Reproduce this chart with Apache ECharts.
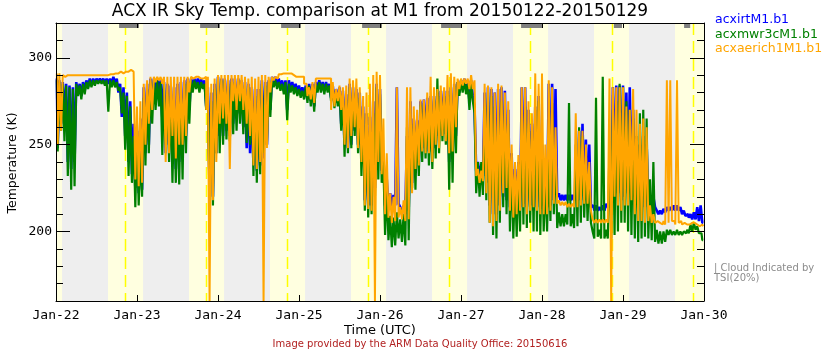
<!DOCTYPE html>
<html>
<head>
<meta charset="utf-8">
<script src="https://cdn.jsdelivr.net/npm/echarts@6/dist/echarts.min.js"></script>
<style>
  html, body { margin: 0; padding: 0; background: #fff; }
  #chart { width: 840px; height: 350px; }
</style>
</head>
<body>
<div id="chart"></div>
<script>
// Hours since 2015-01-22 00:00 UTC; one tick label per day.
const dayLabels = ['Jan-22', 'Jan-23', 'Jan-24', 'Jan-25', 'Jan-26', 'Jan-27', 'Jan-28', 'Jan-29', 'Jan-30'];
const yMajorTicks = [200, 250, 300];

// Daylight periods (hours UTC since Jan-22 00:00)
const sunriseHours = [0, 15.4, 39.4, 63.4, 87.4, 111.4, 135.4, 159.4, 183.4];
const sunsetHours = [1.8, 25.8, 49.8, 73.8, 97.8, 121.8, 145.8, 169.8, 192];
// Local solar noon
const noonHours = [20.45, 44.45, 68.45, 92.45, 116.5, 140.5, 164.6, 188.65];
// Periods with cloud indicated by TSI (20%)
const tsiCloudStart = [18.7, 42.7, 66.7, 90.7, 114.1, 137.8, 165.3, 186.1];
const tsiCloudEnd = [24.6, 48.6, 72.6, 96.6, 120.3, 144.0, 167.7, 187.9];

// Sky IR temperature (K), half-hourly: per hour the upper then lower excursion.
// acxirtM1.b1
const irtJan22 = [288,248, 287,262, 286,265, 285,240, 284,236, 283,240, 286,279, 285,278, 286,281, 287,283, 288,284, 288,285, 288,286, 288,286, 288,285, 288,285, 288,285, 289,285, 288,280, 285,266, 283,255, 280,240, 275,233, 262,225];
const irtJan23 = [258,222, 265,224, 283,245, 285,250, 288,270, 288,278, 288,280, 287,265, 286,245, 285,250, 284,240, 283,236, 285,240, 286,245, 287,255, 288,270, 288,283, 288,284, 288,283, 288,283, 287,272, 283,222, 280,220, 285,245];
const irtJan24 = [289,255, 288,255, 288,258, 287,255, 288,262, 288,265, 288,268, 287,260, 286,248, 285,245, 283,238, 282,235, 282,238, 287,242, 286,250, 287,270, 289,285, 289,284, 288,283, 287,281, 287,270, 287,282, 286,281, 285,280];
const irtJan25 = [284,279, 283,278, 284,276, 285,275, 285,272, 286,282, 287,282, 286,281, 286,282, 285,277, 284,273, 282,274, 283,262, 281,250, 279,248, 285,250, 283,258, 282,250, 280,240, 272,218, 268,215, 266,215, 275,225, 285,240];
const irtJan26 = [282,235, 245,215, 230,213, 222,214, 221,215, 283,216, 214,210, 215,210, 255,212, 275,228, 265,240, 264,240, 275,248, 276,250, 277,246, 278,245, 278,248, 280,255, 281,258, 281,256, 281,240, 283,242, 285,255, 286,280];
const irtJan27 = [287,282, 288,282, 287,275, 287,278, 272,235, 240,232, 238,232, 280,228, 283,215, 282,210, 280,210, 282,215, 283,220, 281,218, 270,214, 245,212, 236,213, 240,214, 283,216, 283,214, 270,215, 262,212, 272,214, 278,213];
const irtJan28 = [250,215, 228,214, 285,215, 285,218, 282,220, 222,218, 221,218, 221,218, 221,218, 221,218, 222,218, 258,218, 262,218, 253,215, 250,214, 215,212, 215,212, 214,212, 215,212, 216,214, 216,214, 283,225, 284,222, 284,218];
const irtJan29 = [284,220, 280,222, 283,225, 270,220, 255,218, 250,215, 255,214, 250,214, 218,214, 220,214, 212,210, 212,210, 213,211, 214,212, 214,212, 215,212, 215,212, 214,210, 212,209, 210,208, 210,207, 211,207, 214,206, 215,205];

// acxmwr3cM1.b1
const mwrJan22 = [287,246, 286,258, 285,252, 284,232, 283,224, 282,226, 285,278, 284,276, 285,279, 286,282, 287,283, 287,284, 287,285, 287,285, 287,284, 287,269, 287,283, 287,283, 286,281, 283,268, 280,247, 278,232, 272,228, 255,214];
const mwrJan23 = [254,215, 245,220, 277,238, 282,245, 286,262, 287,270, 287,272, 286,244, 285,250, 280,240, 278,228, 270,228, 272,227, 275,230, 285,245, 286,262, 287,280, 287,282, 286,280, 286,282, 285,270, 280,218, 275,215, 282,245];
const mwrJan24 = [288,245, 287,250, 287,253, 285,252, 286,256, 286,258, 287,262, 285,256, 284,251, 283,250, 280,232, 278,228, 279,233, 285,245, 284,250, 286,266, 287,283, 287,282, 286,281, 285,279, 286,264, 285,280, 284,279, 283,278];
const mwrJan25 = [282,277, 281,276, 283,274, 284,272, 283,269, 285,280, 286,280, 285,279, 285,280, 284,275, 283,271, 280,272, 281,258, 279,243, 276,245, 283,248, 280,255, 279,245, 277,232, 268,212, 262,208, 258,210, 268,220, 283,230];
const mwrJan26 = [279,228, 240,198, 225,195, 209,191, 208,192, 211,196, 207,194, 210,192, 260,195, 260,225, 262,224, 262,232, 273,240, 274,242, 273,238, 270,236, 276,242, 288,245, 278,252, 278,250, 279,224, 282,228, 284,245, 286,278];
const mwrJan27 = [286,280, 287,279, 285,270, 285,275, 268,222, 240,220, 240,221, 272,218, 280,205, 278,198, 272,196, 268,205, 275,214, 270,210, 262,200, 240,196, 230,197, 236,200, 265,204, 272,202, 262,205, 258,200, 270,200, 275,198];
const mwrJan28 = [250,200, 230,200, 240,206, 274,210, 250,202, 211,203, 210,203, 210,204, 274,203, 210,202, 250,203, 260,205, 255,208, 240,206, 235,205, 200,196, 277,197, 201,196, 289,196, 201,196, 250,196, 270,198, 275,200, 285,205];
const mwrJan29 = [283,205, 275,200, 270,198, 265,196, 255,194, 268,196, 270,197, 265,196, 230,195, 240,194, 201,193, 200,193, 200,194, 201,198, 201,198, 200,198, 201,198, 200,198, 200,199, 201,199, 204,200, 205,201, 203,199, 199,195];

// acxaerich1M1.b1
const aeriJan22 = [291,250, 291,258, 290,289, 290,290, 290,290, 290,290, 290,290, 290,290, 290,290, 290,290, 290,290, 290,290, 290,290, 290,290, 290,290, 290,290, 290.5,290.5, 291,291, 291,291, 292,291, 292,292, 292,292, 293,292, 292,230];
const aeriJan23 = [272,226, 275,228, 285,250, 287,262, 289,270, 289,286, 289,287, 289,285, 289,240, 289,245, 289,255, 289,242, 289,250, 289,250, 289,255, 289,280, 289,288, 289,288, 289,288, 289,288, 289,270, 289,160, 285,218, 288,240];
const aeriJan24 = [290,262, 290,265, 290,262, 290,236, 290,275, 290,270, 290,275, 290,270, 289,262, 288,255, 289,238, 288,236, 289,240, 290,160, 290,248, 289,280, 289,287, 289,288, 290.5,290.5, 291,291, 291,291, 291,291, 290,290, 289,289];
const aeriJan25 = [289,289, 289,285, 285,278, 283,276, 286,274, 288,288, 288,288, 288,288, 288,288, 288,270, 286,272, 282,275, 284,270, 283,250, 284,248, 288,255, 287,260, 288,248, 283,240, 278,215, 280,213, 285,212, 290,160, 292,240];
const aeriJan26 = [290,233, 265,210, 245,208, 222,205, 220,206, 283,208, 214,207, 218,206, 283,207, 283,222, 272,236, 270,238, 276,246, 276,245, 280,245, 289,240, 283,250, 282,248, 284,255, 283,252, 290,245, 291,246, 289,260, 288,282];
const aeriJan27 = [288,284, 288,285, 288,282, 290,282, 287,232, 236,228, 235,229, 285,222, 284,205, 283,203, 280,206, 285,212, 284,222, 280,225, 275,212, 250,208, 240,210, 244,212, 283,214, 283,210, 275,212, 268,214, 291,212, 285,210];
const aeriJan28 = [291,210, 250,210, 287,212, 283,216, 260,216, 218,215, 217,215, 217,214, 216,214, 216,214, 268,214, 258,215, 258,216, 250,216, 240,212, 207,205, 207,205, 207,205, 207,205, 207,205, 288,160, 283,220, 283,215, 283,212];
const aeriJan29 = [283,215, 272,215, 270,218, 282,210, 270,206, 262,206, 265,205, 260,206, 215,205, 210,205, 206,205, 206,204, 206,204, 287,205, 287,206, 206,204, 287,205, 206,204, 205,204, 205,204, 205,204, 205,204, 205,203, 204,203];

const irtDays = [irtJan22, irtJan23, irtJan24, irtJan25, irtJan26, irtJan27, irtJan28, irtJan29];
const mwrDays = [mwrJan22, mwrJan23, mwrJan24, mwrJan25, mwrJan26, mwrJan27, mwrJan28, mwrJan29];
const aeriDays = [aeriJan22, aeriJan23, aeriJan24, aeriJan25, aeriJan26, aeriJan27, aeriJan28, aeriJan29];

const Y_MIN = 160, Y_MAX = 320;

function toPoints(days) {
  const pts = [];
  days.forEach((vals, d) => {
    vals.forEach((v, i) => pts.push([d * 24 + i * 0.5 + 0.25, v]));
  });
  return pts;
}

const dayBands = sunriseHours.map((s, i) => [s, sunsetHours[i]]);
const tsiBars = tsiCloudStart.map((s, i) => [s, tsiCloudEnd[i]]);

const TXT = 'DejaVu Sans';
const MONO = 'DejaVu Sans Mono';

const chart = echarts.init(document.getElementById('chart'), null, { renderer: 'canvas' });

const axisLine = { show: true, lineStyle: { color: '#000', width: 1 } };

const option = {
  animation: false,
  backgroundColor: '#ffffff',
  grid: { left: 56, right: 136, top: 23, bottom: 49, show: true, backgroundColor: '#eeeeee', borderWidth: 0 },
  xAxis: [
    {
      type: 'value', min: 0, max: 192, interval: 24, position: 'bottom', z: 10,
      axisLine, splitLine: { show: false },
      axisTick: { inside: true, length: 6, lineStyle: { color: '#000' } },
      axisLabel: {
        margin: 8, color: '#000', fontFamily: MONO, fontSize: 13,
        formatter: v => dayLabels[Math.round(v / 24)]
      }
    },
    {
      type: 'value', min: 0, max: 192, interval: 24, position: 'top', z: 10,
      axisLine, splitLine: { show: false },
      axisTick: { inside: true, length: 5, lineStyle: { color: '#000' } },
      axisLabel: { show: false }
    }
  ],
  yAxis: [
    {
      type: 'value', min: Y_MIN, max: Y_MAX, interval: 10, position: 'left', z: 10,
      axisLine, splitLine: { show: false },
      axisTick: { inside: true, length: 7, lineStyle: { color: '#000' } },
      axisLabel: { show: false }
    },
    {
      type: 'value', min: Y_MIN, max: Y_MAX, interval: 10, position: 'left', z: 10,
      axisLine: { show: false }, splitLine: { show: false },
      axisTick: { inside: true, length: 14, customValues: yMajorTicks, lineStyle: { color: '#000' } },
      axisLabel: { customValues: yMajorTicks, margin: 4, color: '#000', fontFamily: MONO, fontSize: 13 }
    },
    {
      type: 'value', min: Y_MIN, max: Y_MAX, interval: 10, position: 'right', z: 10,
      axisLine, splitLine: { show: false },
      axisTick: { inside: true, length: 7, lineStyle: { color: '#000' } },
      axisLabel: { show: false }
    },
    {
      type: 'value', min: Y_MIN, max: Y_MAX, interval: 10, position: 'right', z: 10,
      axisLine: { show: false }, splitLine: { show: false },
      axisTick: { inside: true, length: 14, customValues: yMajorTicks, lineStyle: { color: '#000' } },
      axisLabel: { show: false }
    }
  ],
  series: [
    {
      // daylight shading
      type: 'custom', z: 1, silent: true,
      data: dayBands, encode: { x: [0, 1] },
      renderItem: (params, api) => {
        const cs = params.coordSys;
        const a = api.coord([api.value(0), Y_MAX]);
        const b = api.coord([api.value(1), Y_MIN]);
        const x1 = Math.max(a[0], cs.x), x2 = Math.min(b[0], cs.x + cs.width);
        return { type: 'rect', shape: { x: x1, y: a[1], width: Math.max(0, x2 - x1), height: b[1] - a[1] },
                 style: { fill: '#ffffe0' } };
      }
    },
    {
      // solar noon
      type: 'custom', z: 1, silent: true,
      data: noonHours.map(t => [t, t]), encode: { x: [0, 1] },
      renderItem: (params, api) => {
        const a = api.coord([api.value(0), Y_MAX]);
        const b = api.coord([api.value(0), Y_MIN]);
        return { type: 'line', shape: { x1: Math.round(a[0]) + 0.5, y1: a[1], x2: Math.round(b[0]) + 0.5, y2: b[1] },
                 style: { stroke: '#ffff00', lineWidth: 1.5, lineDash: [12, 6] } };
      }
    },
    {
      name: 'acxirtM1.b1', type: 'line', z: 2, data: toPoints(irtDays), step: 'middle',
      showSymbol: false, sampling: false, silent: true,
      lineStyle: { color: '#0000ff', width: 2.6 }
    },
    {
      name: 'acxmwr3cM1.b1', type: 'line', z: 3, data: toPoints(mwrDays), step: 'middle',
      showSymbol: false, sampling: false, silent: true,
      lineStyle: { color: '#008000', width: 2.2 }
    },
    {
      name: 'acxaerich1M1.b1', type: 'line', z: 4, data: toPoints(aeriDays), step: 'middle',
      showSymbol: false, sampling: false, silent: true,
      lineStyle: { color: '#ffa500', width: 2 }
    },
    {
      // TSI cloud flags along the top edge
      type: 'custom', z: 6, silent: true,
      data: tsiBars, encode: { x: [0, 1] },
      renderItem: (params, api) => {
        const a = api.coord([api.value(0), Y_MAX]);
        const b = api.coord([api.value(1), Y_MAX]);
        return { type: 'rect', shape: { x: a[0], y: a[1], width: b[0] - a[0], height: 5 },
                 style: { fill: '#808080' } };
      }
    }
  ],
  graphic: [
    { type: 'text', x: 380, y: 11.5, style: { text: 'ACX IR Sky Temp. comparison at M1 from 20150122-20150129', fontFamily: TXT, fontSize: 17, fill: '#000', align: 'center', verticalAlign: 'middle' } },
    { type: 'text', x: 715, y: 19.5, style: { text: 'acxirtM1.b1', fontFamily: TXT, fontSize: 12.5, fill: '#0000ff', align: 'left', verticalAlign: 'middle' } },
    { type: 'text', x: 715, y: 34.3, style: { text: 'acxmwr3cM1.b1', fontFamily: TXT, fontSize: 12.5, fill: '#008000', align: 'left', verticalAlign: 'middle' } },
    { type: 'text', x: 715, y: 49, style: { text: 'acxaerich1M1.b1', fontFamily: TXT, fontSize: 12.5, fill: '#ffa500', align: 'left', verticalAlign: 'middle' } },
    { type: 'text', x: 714, y: 268.5, style: { text: '| Cloud Indicated by', fontFamily: TXT, fontSize: 10, fill: '#8c8c8c', align: 'left', verticalAlign: 'middle' } },
    { type: 'text', x: 714, y: 278, style: { text: 'TSI(20%)', fontFamily: TXT, fontSize: 10, fill: '#8c8c8c', align: 'left', verticalAlign: 'middle' } },
    { type: 'text', x: 12.5, y: 163, rotation: Math.PI / 2, style: { text: 'Temperature (K)', fontFamily: TXT, fontSize: 12.5, fill: '#000', align: 'center', verticalAlign: 'middle' } },
    { type: 'text', x: 380, y: 331, style: { text: 'Time (UTC)', fontFamily: TXT, fontSize: 13, fill: '#000', align: 'center', verticalAlign: 'middle' } },
    { type: 'text', x: 420, y: 344.5, style: { text: 'Image provided by the ARM Data Quality Office: 20150616', fontFamily: TXT, fontSize: 10, fill: '#b22222', align: 'center', verticalAlign: 'middle' } }
  ]
};

chart.setOption(option);
</script>
</body>
</html>
